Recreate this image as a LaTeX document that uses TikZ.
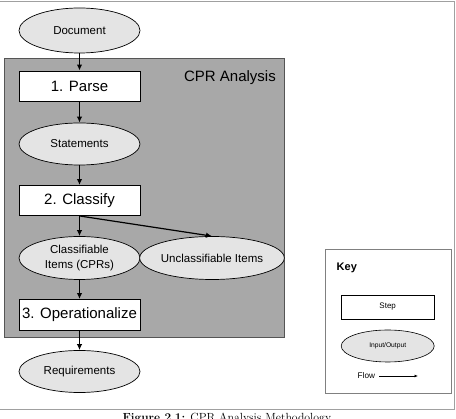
\documentclass[tikz,border=0pt]{standalone}
\usepackage{fontspec}
\newfontfamily\arial{Liberation Sans}
\usetikzlibrary{shapes.geometric,arrows.meta}
\definecolor{panelgray}{HTML}{A8A8A8}
\definecolor{panelline}{HTML}{555555}
\definecolor{iofill}{HTML}{E4E4E4}
\definecolor{framegray}{HTML}{A0A0A0}
\tikzset{
  stepbox/.style={draw=black, line width=0.9pt, fill=white, minimum width=121pt, minimum height=30pt, inner sep=0pt, font=\arial\fontsize{15}{17}\selectfont},
  iobox/.style={ellipse, draw=black, line width=0.7pt, fill=iofill, minimum width=121pt, minimum height=43pt, inner sep=0pt, align=center, font=\arial\fontsize{11.5}{15}\selectfont},
  flow/.style={line width=1.2pt, -{Latex[length=6pt,width=5.5pt]}},
}
\begin{document}
\begin{tikzpicture}[x=1pt,y=-1pt]
\useasboundingbox (0,0) rectangle (456,419);
% outer frame
\draw[framegray, line width=1pt] (0,2) -- (454,2) -- (454,410) -- (0,410);
% caption
\node[anchor=base, font=\fontsize{11.8}{14}\selectfont, inner sep=0pt] (cap) at (228,422) {\textbf{Figure 2.1:} CPR Analysis Methodology.};
% grey panel
\draw[panelline, fill=panelgray, line width=1pt] (4,59) rectangle (284,338);
\node[anchor=east, inner sep=0pt, font=\arial\fontsize{15}{17}\selectfont] (cpr) at (276,77.5) {CPR Analysis};
% nodes
\node[iobox, minimum height=45pt] (doc) at (79.5,30.5) {Document};
\node[stepbox] (parse) at (79.5,86) {1. Parse};
\node[iobox, minimum height=42pt] (stmt) at (79.5,144) {Statements};
\node[stepbox] (classify) at (79.5,200.5) {2. Classify};
\node[iobox] (cls) at (79.5,258) {Classifiable\\Items (CPRs)};
\node[iobox] (uncls) at (212,258) {Unclassifiable Items};
\node[stepbox, minimum height=31pt] (oper) at (79.5,315) {3. Operationalize};
\node[iobox, minimum height=42pt] (req) at (79.5,371.5) {Requirements};
% arrows
\draw[flow] (doc.south) -- (parse.north);
\draw[flow] (parse.south) -- (stmt.north);
\draw[flow] (stmt.south) -- (classify.north);
\draw[flow] (classify.south) -- (cls.north);
\draw[flow] (classify.south) -- (uncls.north);
\draw[flow] (cls.south) -- (oper.north);
\draw[flow] (oper.south) -- (req.north);
% key
\draw[framegray!80!black, line width=1pt, fill=white] (325,249.5) rectangle (451.5,393.5);
\node[anchor=west, inner sep=0pt, font=\arial\bfseries\fontsize{11}{13}\selectfont] (keylbl) at (336.5,267.5) {Key};
\node[draw=black, line width=0.6pt, fill=white, minimum width=93pt, minimum height=24pt, inner sep=0pt, font=\arial\fontsize{8}{10}\selectfont] (kstep) at (387.7,307) {Step};
\node[ellipse, draw=black, line width=0.6pt, fill=iofill, minimum width=93pt, minimum height=32pt, inner sep=0pt, font=\arial\fontsize{6.7}{8}\selectfont] (kio) at (387.7,346) {Input/Output};
\node[anchor=west, inner sep=0pt, font=\arial\fontsize{8.2}{10}\selectfont] (kflow) at (357.5,376) {Flow};
\coordinate (fa) at (379,376);
\coordinate (fb) at (418,376);
\draw[line width=0.7pt, -{Latex[length=3.5pt,width=3pt]}] (fa) -- (fb);
\end{tikzpicture}
\end{document}
